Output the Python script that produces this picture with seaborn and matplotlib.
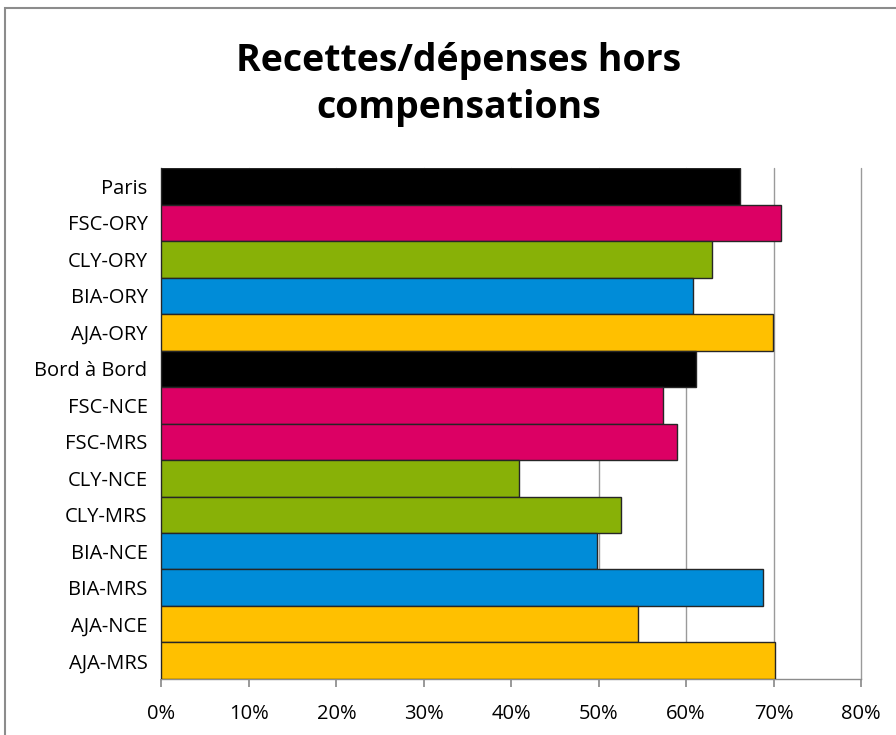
import matplotlib
matplotlib.use("Agg")
import matplotlib.pyplot as plt
import matplotlib.ticker as mticker
from matplotlib.patches import Rectangle
import pandas as pd
import seaborn as sns

sns.set_theme(style="white")
plt.rcParams["font.family"] = ["Open Sans", "DejaVu Sans"]
plt.rcParams["text.color"] = "black"
plt.rcParams["xtick.color"] = "black"
plt.rcParams["ytick.color"] = "black"

routes = ["Paris", "FSC-ORY", "CLY-ORY", "BIA-ORY", "AJA-ORY",
          "Bord à Bord", "FSC-NCE", "FSC-MRS", "CLY-NCE", "CLY-MRS",
          "BIA-NCE", "BIA-MRS", "AJA-NCE", "AJA-MRS"]
ratios = [0.661, 0.708, 0.629, 0.608, 0.699,
          0.611, 0.573, 0.589, 0.409, 0.525,
          0.498, 0.688, 0.545, 0.702]
bar_colors = ["#000000", "#DC0064", "#88B107", "#008CD8", "#FFC000",
              "#000000", "#DC0064", "#DC0064", "#88B107", "#88B107",
              "#008CD8", "#008CD8", "#FFC000", "#FFC000"]
x_ticks = [0, 0.1, 0.2, 0.3, 0.4, 0.5, 0.6, 0.7, 0.8]

df = pd.DataFrame({"route": routes, "ratio": ratios})

fig = plt.figure(figsize=(8.96, 7.35), dpi=100)
ax = fig.add_axes([0.1802, 0.0762, 0.961 - 0.1802, 0.7714 - 0.0762])

sns.barplot(data=df, y="route", x="ratio", hue="route", order=routes,
            palette=dict(zip(routes, bar_colors)), legend=False,
            saturation=1, width=1.0, edgecolor="#262626", linewidth=1.0,
            ax=ax, zorder=3)

ax.set_xlim(0, 0.8)
ax.set_xticks(x_ticks)
ax.xaxis.set_major_formatter(mticker.PercentFormatter(1.0, decimals=0))
ax.grid(axis="x", color="#9a9a9a", lw=1.0, zorder=0)
for gl in ax.get_xgridlines():
    gl.set_clip_on(False)
ax.set_xlabel("")
ax.set_ylabel("")

for side in ["top", "right"]:
    ax.spines[side].set_visible(False)
for side in ["left", "bottom"]:
    ax.spines[side].set_color("#8c8c8c")
    ax.spines[side].set_linewidth(1.0)

ax.tick_params(axis="x", bottom=True, length=6, color="#8c8c8c",
               labelcolor="black", labelsize=14.5, pad=12)
ax.tick_params(axis="y", left=False, labelcolor="black", labelsize=14.5, pad=4)

fig.text(0.512, 0.885, "Recettes/dépenses hors\ncompensations",
         ha="center", va="center", fontsize=27, fontweight="bold",
         color="black", linespacing=1.3)

fig.patches.append(Rectangle((5 / 896, -0.1), 1.2, 1 - 8 / 735 + 0.1,
                             transform=fig.transFigure, fill=False,
                             edgecolor="#8c8c8c", lw=1.5))

fig.savefig("out.png", dpi=100)
